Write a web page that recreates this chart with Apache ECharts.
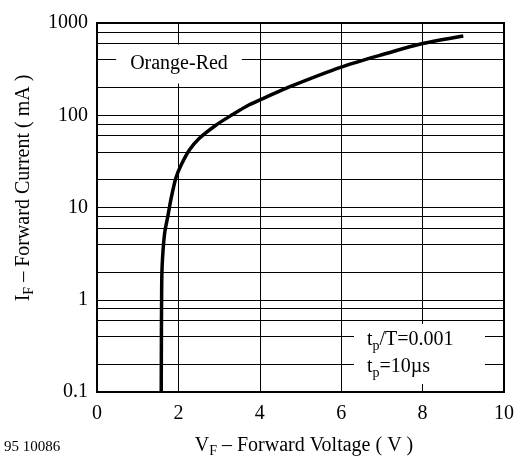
<!DOCTYPE html>
<html><head><meta charset="utf-8">
<script src="https://cdn.jsdelivr.net/npm/echarts@6/dist/echarts.min.js"></script>
<style>html,body{margin:0;padding:0;background:#fff}#c{width:517px;height:462px}</style>
</head><body><div id="c"></div>
<script>
// Forward voltage (V) and forward current (mA)
const voltage = [1.578, 1.582, 1.587, 1.60, 1.66, 1.74, 1.82, 1.94, 2.07, 2.27, 2.51, 2.92, 3.32, 3.73, 4.18, 4.71, 6.0, 7.15, 7.95, 9.0];
const current = [0.1, 0.35, 1.0, 2.3, 5.2, 8.0, 12.5, 21, 29, 42, 56, 78, 101, 129, 159, 202, 333, 473, 592, 723];
const xTicks = [0, 2, 4, 6, 8, 10];
const yTicks = [0.1, 1, 10, 100, 1000];
const minorGrid = [0.2, 0.4, 0.6, 0.8, 2, 4, 6, 8, 20, 40, 60, 80, 200, 400, 600, 800];

const serif = '"Liberation Serif", "Times New Roman", serif';
const chart = echarts.init(document.getElementById('c'), null, {renderer: 'canvas'});
const subStyle = {fontSize: 14, fontFamily: serif, verticalAlign: 'bottom', lineHeight: 14};

const option = {
  animation: false,
  backgroundColor: '#fff',
  grid: {left: 97, right: 10, top: 23, bottom: 70, show: true, borderColor: '#000', borderWidth: 2, backgroundColor: 'transparent'},
  xAxis: {
    type: 'value', min: 0, max: 10, interval: 2,
    axisLine: {show: false}, axisTick: {show: false},
    axisLabel: {color: '#000', fontFamily: serif, fontSize: 20, margin: 12,
      formatter: v => xTicks.includes(v) ? String(v) : ''},
    splitLine: {show: true, lineStyle: {color: '#000', width: 1}}
  },
  yAxis: {
    type: 'log', logBase: 10, min: 0.1, max: 1000,
    axisLine: {show: false}, axisTick: {show: false},
    axisLabel: {color: '#000', fontFamily: serif, fontSize: 20, margin: 9,
      formatter: v => { const t = yTicks.find(t => Math.abs(t - v) / t < 1e-6); return t === undefined ? '' : String(t); }},
    splitLine: {show: true, lineStyle: {color: '#000', width: 1}}
  },
  series: [{
    type: 'line',
    data: voltage.map((v, i) => [v, current[i]]),
    smooth: 0.3,
    showSymbol: false,
    lineStyle: {color: '#000', width: 3.5},
    z: 5,
    markLine: {
      silent: true, symbol: ['none', 'none'], label: {show: false},
      lineStyle: {color: '#000', width: 1, type: 'solid'},
      emphasis: {disabled: true},
      data: minorGrid.map(v => ({yAxis: v}))
    }
  }],
  graphic: [
    {type: 'text', z: 100, x: 179, y: 64,
      style: {text: 'Orange-Red', fill: '#000', font: '20px ' + serif, textAlign: 'center', textVerticalAlign: 'middle',
        backgroundColor: '#fff', padding: [7, 14, 12, 14]}},
    {type: 'text', z: 100, x: 354, y: 324,
      style: {text: 't{s|p}/T=0.001\nt{s|p}=10µs', fill: '#000', font: '20px ' + serif, textAlign: 'left', textVerticalAlign: 'top',
        backgroundColor: '#fff', padding: [2, 19, 4, 13], width: 99, lineHeight: 27,
        rich: {s: subStyle}}},
    {type: 'text', z: 100, x: 24, y: 188, rotation: Math.PI / 2,
      style: {text: 'I{s|F} – Forward Current ( mA )', fill: '#000', font: '20px ' + serif, textAlign: 'center', textVerticalAlign: 'middle', lineHeight: 24,
        rich: {s: subStyle}}},
    {type: 'text', z: 100, x: 304, y: 446,
      style: {text: 'V{s|F} – Forward Voltage ( V )', fill: '#000', font: '20px ' + serif, textAlign: 'center', textVerticalAlign: 'middle', lineHeight: 24,
        rich: {s: subStyle}}},
    {type: 'text', z: 100, x: 4, y: 447,
      style: {text: '95 10086', fill: '#000', font: '15px ' + serif, textAlign: 'left', textVerticalAlign: 'middle'}}
  ]
};
chart.setOption(option);
</script></body></html>
